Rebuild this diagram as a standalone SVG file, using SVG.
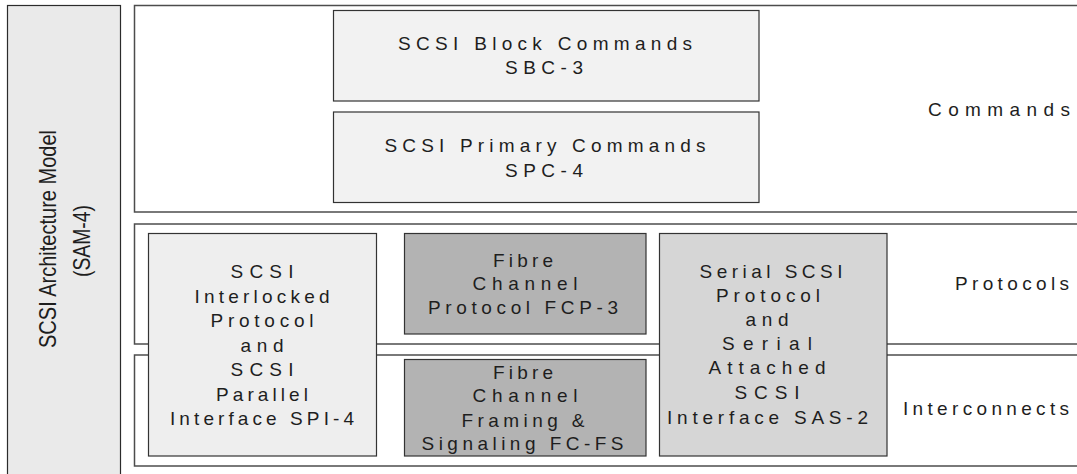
<svg xmlns="http://www.w3.org/2000/svg" width="1077" height="474" viewBox="0 0 1077 474">
  <style>
    .layer { fill: #ffffff; stroke: #4d4d4d; stroke-width: 1.5; }
    .box { stroke: #333333; stroke-width: 1.2; }
    .light { fill: #f2f2f2; }
    .pale { fill: #eeeeee; }
    .mid { fill: #d6d6d6; }
    .dark { fill: #b3b3b3; }
    .side { fill: #eaeaea; stroke: #2b2b2b; stroke-width: 1.2; }
    text { font-family: "Liberation Sans", Arial, sans-serif; font-size: 19px; fill: #1e1e1e; text-anchor: middle; }
    .lbl { font-size: 19px; }
    .title { font-size: 24px; }
  </style>

  <!-- architecture model side panel -->
  <g id="sam4">
    <rect class="side" x="7.5" y="5.5" width="113" height="480"/>
    <text class="title" x="56" y="239" transform="rotate(-90 56 239)" textLength="218" lengthAdjust="spacingAndGlyphs">SCSI Architecture Model</text>
    <text class="title" x="90" y="241" transform="rotate(-90 90 241)" textLength="72" lengthAdjust="spacingAndGlyphs">(SAM-4)</text>
  </g>

  <!-- layer bands -->
  <g id="layer-commands">
    <rect class="layer" x="134.5" y="5.5" width="960" height="206.5"/>
    <text class="lbl" x="999" y="116" textLength="142" lengthAdjust="spacing">Commands</text>
  </g>
  <g id="layer-protocols">
    <rect class="layer" x="134.5" y="224" width="960" height="120"/>
    <text class="lbl" x="1012" y="290" textLength="114" lengthAdjust="spacing">Protocols</text>
  </g>
  <g id="layer-interconnects">
    <rect class="layer" x="134.5" y="355" width="960" height="111"/>
    <text class="lbl" x="986" y="415" textLength="166" lengthAdjust="spacing">Interconnects</text>
  </g>

  <!-- command sets -->
  <g id="sbc3">
    <rect class="box light" x="333.5" y="10.5" width="425.5" height="90.5"/>
    <text x="545" y="50" textLength="294" lengthAdjust="spacing">SCSI Block Commands</text>
    <text x="544" y="74" textLength="78" lengthAdjust="spacing">SBC-3</text>
  </g>
  <g id="spc4">
    <rect class="box light" x="333.5" y="112" width="425.5" height="90.5"/>
    <text x="545" y="152" textLength="321" lengthAdjust="spacing">SCSI Primary Commands</text>
    <text x="544" y="177" textLength="78" lengthAdjust="spacing">SPC-4</text>
  </g>

  <!-- parallel SCSI -->
  <g id="spi4">
    <rect class="box pale" x="148.5" y="233.5" width="228" height="222.5"/>
    <text x="262" y="278" textLength="63" lengthAdjust="spacing">SCSI</text>
    <text x="262" y="302.5" textLength="135" lengthAdjust="spacing">Interlocked</text>
    <text x="262" y="327" textLength="103" lengthAdjust="spacing">Protocol</text>
    <text x="262" y="351.5" textLength="43" lengthAdjust="spacing">and</text>
    <text x="262" y="376" textLength="63" lengthAdjust="spacing">SCSI</text>
    <text x="262" y="400.5" textLength="92" lengthAdjust="spacing">Parallel</text>
    <text x="262" y="425" textLength="184" lengthAdjust="spacing">Interface SPI-4</text>
  </g>

  <!-- fibre channel -->
  <g id="fcp3">
    <rect class="box dark" x="404.5" y="233.5" width="241.5" height="100.5"/>
    <text x="523" y="267" textLength="60" lengthAdjust="spacing">Fibre</text>
    <text x="525" y="290" textLength="105" lengthAdjust="spacing">Channel</text>
    <text x="523" y="313.5" textLength="190" lengthAdjust="spacing">Protocol FCP-3</text>
  </g>
  <g id="fcfs">
    <rect class="box dark" x="404.5" y="359.5" width="241.5" height="96.5"/>
    <text x="523" y="378.5" textLength="60" lengthAdjust="spacing">Fibre</text>
    <text x="525" y="402" textLength="105" lengthAdjust="spacing">Channel</text>
    <text x="523" y="426.5" textLength="123" lengthAdjust="spacing">Framing &amp;</text>
    <text x="522.5" y="449.5" textLength="202" lengthAdjust="spacing">Signaling FC-FS</text>
  </g>

  <!-- serial attached SCSI -->
  <g id="sas2">
    <rect class="box mid" x="659.5" y="233.5" width="227.5" height="222.5"/>
    <text x="771" y="277.5" textLength="143" lengthAdjust="spacing">Serial SCSI</text>
    <text x="768" y="301.5" textLength="104" lengthAdjust="spacing">Protocol</text>
    <text x="767" y="325.5" textLength="43" lengthAdjust="spacing">and</text>
    <text x="767" y="350" textLength="90" lengthAdjust="spacing">Serial</text>
    <text x="767" y="374" textLength="117" lengthAdjust="spacing">Attached</text>
    <text x="767" y="398.5" textLength="65" lengthAdjust="spacing">SCSI</text>
    <text x="767.5" y="424" textLength="201" lengthAdjust="spacing">Interface SAS-2</text>
  </g>

  <!-- this figure is a stack of layers; there are no connectors -->
  <g id="connectors"/>
</svg>
